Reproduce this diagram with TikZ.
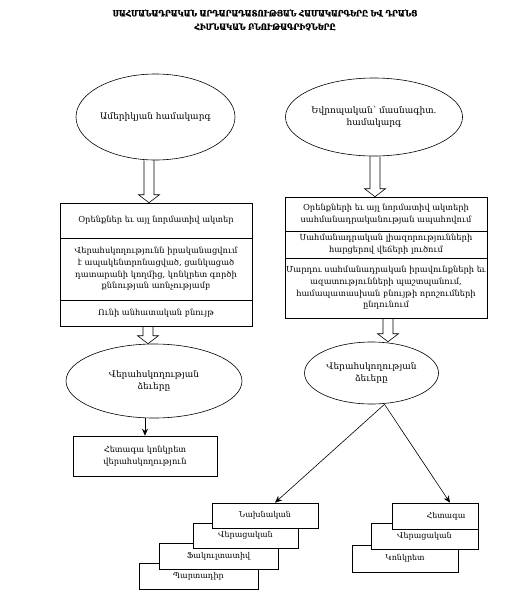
\documentclass[tikz,border=0pt]{standalone}
\usepackage{fontspec}
\setmainfont{DejaVu Serif}
\newfontfamily\titlefont[FakeStretch=0.85,FakeBold=1.2]{DejaVu Serif Bold}
\usetikzlibrary{shapes.geometric,calc,arrows.meta}
\newcommand{\hollowarrow}[3]{%
  \draw[hollow] let \p1=(#2.south -| #1), \p2=(#3.north -| #1) in
    (\x1-5pt,\y1) -- (\x1-5pt,\y2+8pt) -- (\x1-10.5pt,\y2+8pt) -- (\x1,\y2)
    -- (\x1+10.5pt,\y2+8pt) -- (\x1+5pt,\y2+8pt) -- (\x1+5pt,\y1);}
\begin{document}
\begin{tikzpicture}[x=1pt,y=-1pt,
  every node/.style={font=\fontsize{8.3}{11.7}\selectfont, align=center, inner sep=1pt},
  oval/.style={draw, ellipse, line width=0.6pt, inner sep=0pt, font=\fontsize{9}{12.5}\selectfont},
  cell/.style={draw, rectangle, line width=0.6pt, fill=white},
  tinybox/.style={font=\fontsize{8}{10}\selectfont},
  hollow/.style={draw, line width=0.6pt, line join=miter},
  arr/.style={draw, line width=0.6pt, -{Stealth[length=7pt,width=6pt]}}
]
\path[fill=white] (0,0) rectangle (520,595);
\useasboundingbox (0,0) rectangle (520,595);

\node[font=\titlefont\fontsize{8.5}{13.5}\selectfont] (title) at (265,20)
  {ՍԱՀՄԱՆԱԴՐԱԿԱՆ ԱՐԴԱՐԱԴԱՏՈՒԹՅԱՆ ՀԱՄԱԿԱՐԳԵՐԸ ԵՎ ԴՐԱՆՑ\\ՀԻՄՆԱԿԱՆ ԲՆՈՒԹԱԳՐԻՉՆԵՐԸ};

% top ellipses
\node[oval, minimum width=159, minimum height=86] (e1) at (155.5,117) {Ամերիկյան համակարգ};
\node[oval, minimum width=161, minimum height=78] (e2) at (374,117) {Եվրոպական՝ մասնագիտ.\\համակարգ};

% left box
\node[cell, minimum width=192, minimum height=35] (b1) at (156,220.5) {Օրենքներ եւ այլ նորմատիվ ակտեր};
\node[cell, minimum width=192, minimum height=62] (b2) at (156,269)
  {Վերահսկողությունն իրականացվում\\է ապակենտրոնացված, ցանկացած\\դատարանի կողմից, կոնկրետ գործի\\քննության առնչությամբ};
\node[cell, minimum width=192, minimum height=26] (b3) at (156,313) {Ունի անհատական բնույթ};

% right box
\node[cell, minimum width=202, minimum height=34] (r1) at (386,214)
  {Օրենքների եւ այլ նորմատիվ ակտերի\\սահմանադրականության ապահովում};
\node[cell, minimum width=202, minimum height=27] (r2) at (386,244.5)
  {Սահմանադրական լիազորությունների\\հարցերով վեճերի լուծում};
\node[cell, minimum width=202, minimum height=60] (r3) at (386,288)
  {Մարդու սահմանադրական իրավունքների եւ\\ազատությունների պաշտպանում,\\համապատասխան բնույթի որոշումների\\ընդունում};

% second ellipses
\node[oval, minimum width=176, minimum height=74] (e3) at (154,381) {Վերահսկողության\\ձեւերը};
\node[oval, minimum width=134, minimum height=62] (e4) at (371.5,373) {Վերահսկողության\\ձեւերը};

\node[cell, minimum width=144, minimum height=40] (lb) at (145,456) {Հետագա կոնկրետ\\վերահսկողություն};

% hollow arrows
\coordinate (xa) at (149,0);
\coordinate (xb) at (148,0);
\coordinate (xc) at (375,0);
\coordinate (xd) at (388,0);
\hollowarrow{xa}{e1}{b1}
\hollowarrow{xb}{b3}{e3}
\hollowarrow{xc}{e2}{r1}
\hollowarrow{xd}{r3}{e4}

\draw[arr] (e3.south -| lb.north) -- (lb.north);

% stacked boxes, left
\node[cell, tinybox, minimum width=119, minimum height=26] (s4) at (198.5,576) {Պարտադիր};
\node[cell, tinybox, minimum width=119, minimum height=26] (s3) at (218.5,556) {Ֆակուլտատիվ};
\node[cell, tinybox, minimum width=105, minimum height=25] (s2) at (245.5,535.5) {Վերացական};
\node[cell, tinybox, minimum width=106, minimum height=25] (s1) at (265,515.5) {Նախնական};

% stacked boxes, right
\node[cell, tinybox, minimum width=106, minimum height=27] (t3) at (405,558.5) {Կոնկրետ};
\node[cell, tinybox, minimum width=107, minimum height=26] (t2) at (424.5,536) {Վերացական};
\node[cell, tinybox, minimum width=86, minimum height=26] (t1) at (435,516) {\hspace*{22pt}Հետագա};

\coordinate (apex) at ($(e4.south)+(13,0)$);
\coordinate (s1tip) at ($(s1.north)+(10,0)$);
\coordinate (t1tip) at ($(t1.north)+(15,0)$);
\draw[arr] (apex) -- (s1tip);
\draw[arr] (apex) -- (t1tip);
\end{tikzpicture}
\end{document}
